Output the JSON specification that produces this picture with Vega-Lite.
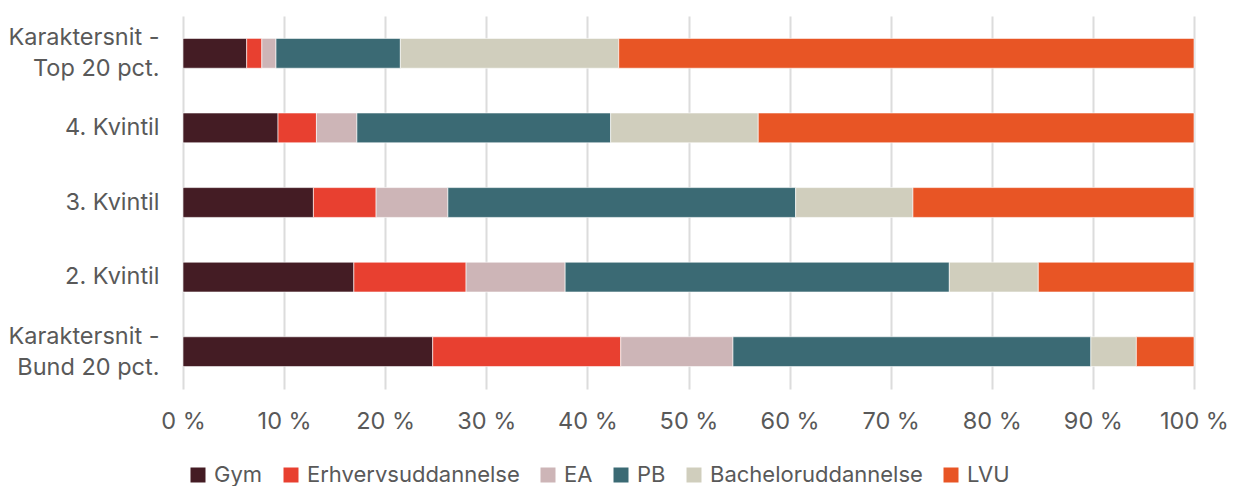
{
  "$schema": "https://vega.github.io/schema/vega-lite/v6.json",
  "width": 1011,
  "height": 373,
  "autosize": {"type": "none"},
  "padding": {"left": 183, "top": 16, "right": 40, "bottom": 97},
  "config": {
    "view": {"stroke": null},
    "font": "Inter",
    "text": {"font": "Inter"}
  },
  "data": {
    "values": [
      {"gruppe": "Karaktersnit - Top 20 pct.", "type": "Gym", "o": 1, "andel": 6.3},
      {"gruppe": "Karaktersnit - Top 20 pct.", "type": "Erhvervsuddannelse", "o": 2, "andel": 1.5},
      {"gruppe": "Karaktersnit - Top 20 pct.", "type": "EA", "o": 3, "andel": 1.4},
      {"gruppe": "Karaktersnit - Top 20 pct.", "type": "PB", "o": 4, "andel": 12.3},
      {"gruppe": "Karaktersnit - Top 20 pct.", "type": "Bacheloruddannelse", "o": 5, "andel": 21.6},
      {"gruppe": "Karaktersnit - Top 20 pct.", "type": "LVU", "o": 6, "andel": 56.9},
      {"gruppe": "4. Kvintil", "type": "Gym", "o": 1, "andel": 9.4},
      {"gruppe": "4. Kvintil", "type": "Erhvervsuddannelse", "o": 2, "andel": 3.8},
      {"gruppe": "4. Kvintil", "type": "EA", "o": 3, "andel": 4.0},
      {"gruppe": "4. Kvintil", "type": "PB", "o": 4, "andel": 25.1},
      {"gruppe": "4. Kvintil", "type": "Bacheloruddannelse", "o": 5, "andel": 14.6},
      {"gruppe": "4. Kvintil", "type": "LVU", "o": 6, "andel": 43.1},
      {"gruppe": "3. Kvintil", "type": "Gym", "o": 1, "andel": 12.9},
      {"gruppe": "3. Kvintil", "type": "Erhvervsuddannelse", "o": 2, "andel": 6.2},
      {"gruppe": "3. Kvintil", "type": "EA", "o": 3, "andel": 7.1},
      {"gruppe": "3. Kvintil", "type": "PB", "o": 4, "andel": 34.4},
      {"gruppe": "3. Kvintil", "type": "Bacheloruddannelse", "o": 5, "andel": 11.6},
      {"gruppe": "3. Kvintil", "type": "LVU", "o": 6, "andel": 27.8},
      {"gruppe": "2. Kvintil", "type": "Gym", "o": 1, "andel": 16.9},
      {"gruppe": "2. Kvintil", "type": "Erhvervsuddannelse", "o": 2, "andel": 11.1},
      {"gruppe": "2. Kvintil", "type": "EA", "o": 3, "andel": 9.8},
      {"gruppe": "2. Kvintil", "type": "PB", "o": 4, "andel": 38.0},
      {"gruppe": "2. Kvintil", "type": "Bacheloruddannelse", "o": 5, "andel": 8.8},
      {"gruppe": "2. Kvintil", "type": "LVU", "o": 6, "andel": 15.4},
      {"gruppe": "Karaktersnit - Bund 20 pct.", "type": "Gym", "o": 1, "andel": 24.7},
      {"gruppe": "Karaktersnit - Bund 20 pct.", "type": "Erhvervsuddannelse", "o": 2, "andel": 18.6},
      {"gruppe": "Karaktersnit - Bund 20 pct.", "type": "EA", "o": 3, "andel": 11.1},
      {"gruppe": "Karaktersnit - Bund 20 pct.", "type": "PB", "o": 4, "andel": 35.4},
      {"gruppe": "Karaktersnit - Bund 20 pct.", "type": "Bacheloruddannelse", "o": 5, "andel": 4.5},
      {"gruppe": "Karaktersnit - Bund 20 pct.", "type": "LVU", "o": 6, "andel": 5.7}
    ]
  },
  "mark": {"type": "bar", "stroke": "white", "strokeWidth": 0.6},
  "encoding": {
    "y": {
      "field": "gruppe",
      "type": "nominal",
      "sort": null,
      "title": null,
      "scale": {"paddingInner": 0.6, "paddingOuter": 0.3},
      "axis": {
        "domain": false,
        "ticks": false,
        "labelPadding": 24,
        "labelFontSize": 23.5,
        "labelColor": "#595959",
        "labelLineHeight": 31,
        "labelLimit": 300,
        "labelOffset": {"condition": {"test": "indexof(datum.value, 'Karakter') >= 0", "value": -15}, "value": 0},
        "labelExpr": "split(replace(datum.label, '- ', '-|'), '|')"
      }
    },
    "x": {
      "field": "andel",
      "type": "quantitative",
      "stack": "zero",
      "title": null,
      "scale": {"domain": [0, 100], "nice": false},
      "axis": {
        "values": [0, 10, 20, 30, 40, 50, 60, 70, 80, 90, 100],
        "domain": false,
        "ticks": false,
        "grid": true,
        "gridColor": "#dcdcdc",
        "gridWidth": 2,
        "labelFlush": false,
        "labelFontSize": 23.5,
        "labelColor": "#595959",
        "labelPadding": 20,
        "labelExpr": "datum.value + ' %'"
      }
    },
    "order": {"field": "o", "type": "quantitative"},
    "color": {
      "field": "type",
      "type": "nominal",
      "title": null,
      "scale": {
        "domain": ["Gym", "Erhvervsuddannelse", "EA", "PB", "Bacheloruddannelse", "LVU"],
        "range": ["#441c24", "#e84030", "#cdb5b7", "#3b6a74", "#d0cebd", "#e85525"]
      },
      "legend": {
        "orient": "none",
        "direction": "horizontal",
        "legendX": 4,
        "legendY": 448,
        "symbolType": "square",
        "symbolSize": 225,
        "symbolStrokeWidth": 0,
        "labelFontSize": 22,
        "labelColor": "#595959",
        "labelOffset": 5,
        "columnPadding": 17,
        "labelLimit": 400
      }
    }
  }
}
